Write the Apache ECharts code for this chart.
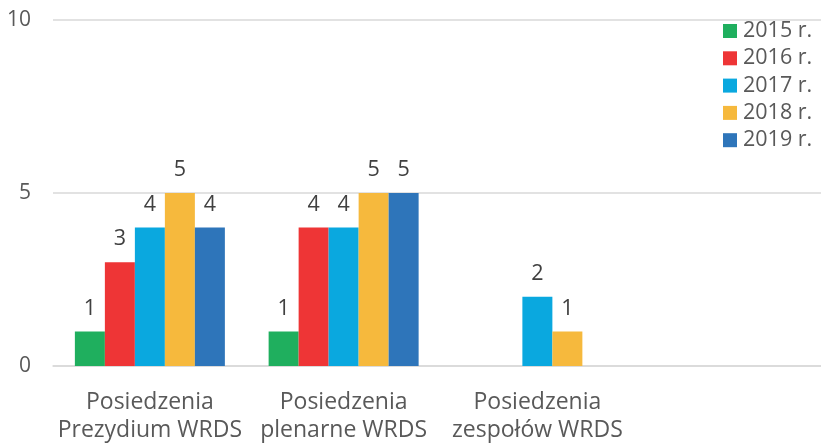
<!DOCTYPE html>
<html>
<head>
<meta charset="utf-8">
<script src="https://cdn.jsdelivr.net/npm/echarts@6/dist/echarts.min.js"></script>
<style>html,body{margin:0;padding:0;background:#fff;overflow:hidden;}#c{width:828px;height:445px;}</style>
</head>
<body>
<div id="c"></div>
<script>
const categories = ['Posiedzenia\nPrezydium WRDS', 'Posiedzenia\nplenarne WRDS', 'Posiedzenia\nzespołów WRDS', ''];
const seriesNames = ['2015 r.', '2016 r.', '2017 r.', '2018 r.', '2019 r.'];
const s2015 = [1, 1, null, null];
const s2016 = [3, 4, null, null];
const s2017 = [4, 4, 2, null];
const s2018 = [5, 5, 1, null];
const s2019 = [4, 5, null, null];
const yTicks = [0, 5, 10];
const colors = ['#1FAF5E', '#EE3536', '#0AA8DF', '#F6B93D', '#2E75BA'];

const values = [s2015, s2016, s2017, s2018, s2019];
const font = '"Open Sans", "DejaVu Sans", sans-serif';
const chart = echarts.init(document.getElementById('c'));
chart.setOption({
  animation: false,
  color: colors,
  grid: { left: 53, top: 20, right: 0, bottom: 79, containLabel: false },
  legend: {
    orient: 'vertical', left: 723, top: 20, padding: 0,
    itemWidth: 14, itemHeight: 14, itemGap: 5.3,
    icon: 'rect',
    textStyle: { fontFamily: font, fontSize: 21.5, color: '#595959', lineHeight: 22, padding: [0, 0, 0, 1] },
    data: seriesNames
  },
  xAxis: {
    type: 'category', data: categories,
    axisLine: { show: true, lineStyle: { color: '#d9d9d9', width: 1.5 } },
    axisTick: { show: false },
    axisLabel: { fontFamily: font, fontSize: 23, color: '#595959', lineHeight: 28, margin: 22, interval: 0 }
  },
  yAxis: {
    type: 'value', min: yTicks[0], max: yTicks[yTicks.length - 1], interval: 5,
    axisLine: { show: false }, axisTick: { show: false },
    splitLine: { lineStyle: { color: '#d9d9d9', width: 1.5 } },
    axisLabel: { fontFamily: font, fontSize: 21, color: '#595959', margin: 22 }
  },
  series: seriesNames.map((n, i) => ({
    name: n, type: 'bar', data: values[i],
    barWidth: 30, barGap: '0%',
    label: { show: true, position: 'top', distance: 12, fontFamily: font, fontSize: 21.5, color: '#404040' }
  }))
});
</script>
</body>
</html>
